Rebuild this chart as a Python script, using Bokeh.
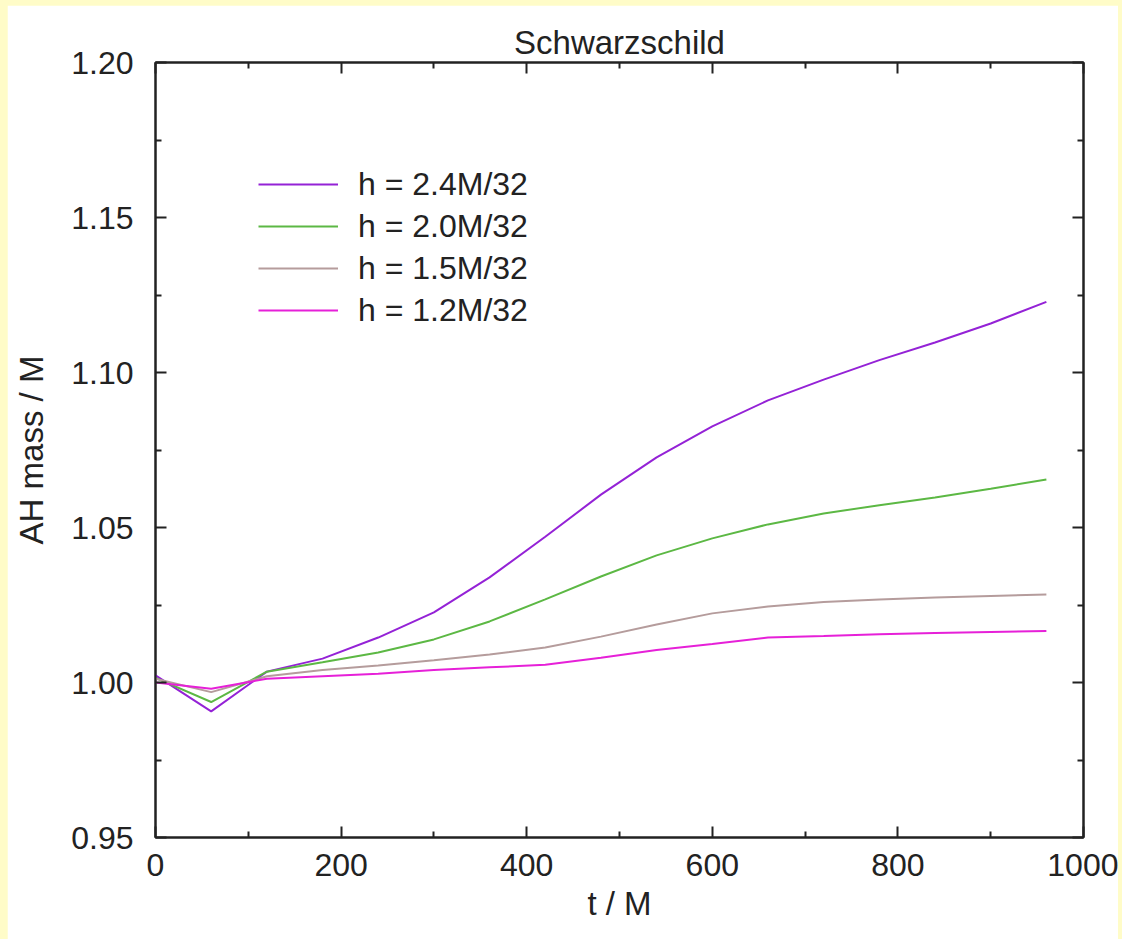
from bokeh.plotting import figure
from bokeh.models import (LinearAxis, Legend, LegendItem, Range1d, FixedTicker,
                          PrintfTickFormatter)
from bokeh.layouts import column
from bokeh.embed import file_html
from bokeh.resources import INLINE

# Apparent-horizon mass over time for four grid resolutions
t = [0, 60, 120, 180, 240, 300, 360, 420, 480, 540, 600, 660, 720, 780, 840, 900, 960]

mass_h24 = [1.0023, 0.9907, 1.0035, 1.0077, 1.0145, 1.0226, 1.0339, 1.0470, 1.0606,
            1.0726, 1.0826, 1.0910, 1.0977, 1.1040, 1.1097, 1.1158, 1.1228]
mass_h20 = [1.0015, 0.9937, 1.0035, 1.0065, 1.0097, 1.0139, 1.0197, 1.0268, 1.0342,
            1.0410, 1.0465, 1.0510, 1.0545, 1.0572, 1.0597, 1.0625, 1.0655]
mass_h15 = [1.0012, 0.9969, 1.0020, 1.0040, 1.0055, 1.0072, 1.0090, 1.0113, 1.0148,
            1.0187, 1.0223, 1.0245, 1.0260, 1.0268, 1.0274, 1.0279, 1.0284]
mass_h12 = [1.0000, 0.9980, 1.0012, 1.0020, 1.0028, 1.0040, 1.0049, 1.0057, 1.0080,
            1.0105, 1.0124, 1.0145, 1.0150, 1.0156, 1.0160, 1.0163, 1.0166]

labels = ["h = 2.4M/32", "h = 2.0M/32", "h = 1.5M/32", "h = 1.2M/32"]
colors = ["#9422d6", "#5cb844", "#b59c9c", "#e620d8"]

x_major = [0, 200, 400, 600, 800, 1000]
x_minor = [100, 300, 500, 700, 900]
y_major = [0.95, 1.00, 1.05, 1.10, 1.15, 1.20]
y_minor = [0.975, 1.025, 1.075, 1.125, 1.175]

FONT = "Liberation Sans"
FS_TICK = "32px"
FS_TEXT = "33px"
INK = "#222222"

p = figure(width=1111, height=934, output_backend="svg", toolbar_location=None,
           x_range=Range1d(0, 1000), y_range=Range1d(0.95, 1.20),
           min_border_left=148, min_border_right=35, min_border_top=57,
           min_border_bottom=102, x_axis_location=None, y_axis_location=None,
           background_fill_color="white", border_fill_color="white")
p.margin = (5, 4, 0, 7)
p.grid.visible = False
p.outline_line_color = INK
p.outline_line_width = 2

# title pinned to the top of the space above the frame
p.title.text = "Schwarzschild"
p.title.align = "center"
p.title.vertical_align = "top"
p.title.text_font = FONT
p.title.text_font_size = FS_TEXT
p.title.text_font_style = "normal"
p.title.text_color = INK
p.title.standoff = 0


def make_axis(major, minor, show_labels, label=None):
    ax = LinearAxis(ticker=FixedTicker(ticks=major, minor_ticks=minor))
    ax.axis_line_color = INK
    ax.axis_line_width = 2
    ax.major_tick_line_color = INK
    ax.major_tick_line_width = 2
    ax.minor_tick_line_color = INK
    ax.minor_tick_line_width = 2
    ax.major_tick_in = 11
    ax.major_tick_out = 0
    ax.minor_tick_in = 6
    ax.minor_tick_out = 0
    if show_labels:
        ax.major_label_text_font = FONT
        ax.major_label_text_font_size = FS_TICK
        ax.major_label_text_color = INK
    else:
        # mirrored tick marks only
        ax.major_label_text_color = None
        ax.major_label_text_font_size = "2px"
        ax.major_label_standoff = 0
    if label:
        ax.axis_label = label
        ax.axis_label_text_font = FONT
        ax.axis_label_text_font_size = FS_TEXT
        ax.axis_label_text_font_style = "normal"
        ax.axis_label_text_color = INK
    return ax


xb = make_axis(x_major, x_minor, True, "t / M")
xb.major_label_standoff = 16
xb.axis_label_standoff = 6
yl = make_axis(y_major, y_minor, True, "AH mass / M")
yl.major_label_standoff = 22
yl.axis_label_standoff = 18
yl.formatter = PrintfTickFormatter(format="%.2f")
xt = make_axis(x_major, x_minor, False)
yr = make_axis(y_major, y_minor, False)

p.add_layout(xb, "below")
p.add_layout(yl, "left")
p.add_layout(xt, "above")
p.add_layout(yr, "right")

items = []
for vals, lab, col in zip([mass_h24, mass_h20, mass_h15, mass_h12], labels, colors):
    r = p.line(t, vals, line_color=col, line_width=2)
    items.append(LegendItem(label=lab, renderers=[r]))

legend = Legend(items=items, location=(103, 506), glyph_width=80, glyph_height=42,
                label_height=42, label_standoff=20, spacing=0, padding=0, margin=0,
                border_line_color=None, background_fill_alpha=0,
                label_text_font=FONT, label_text_font_size="32px", label_text_color=INK)
p.add_layout(legend, "center")

page = column(p, styles={"background-color": "#fffcc8"})

open("out.html", "w").write(file_html(page, INLINE))
